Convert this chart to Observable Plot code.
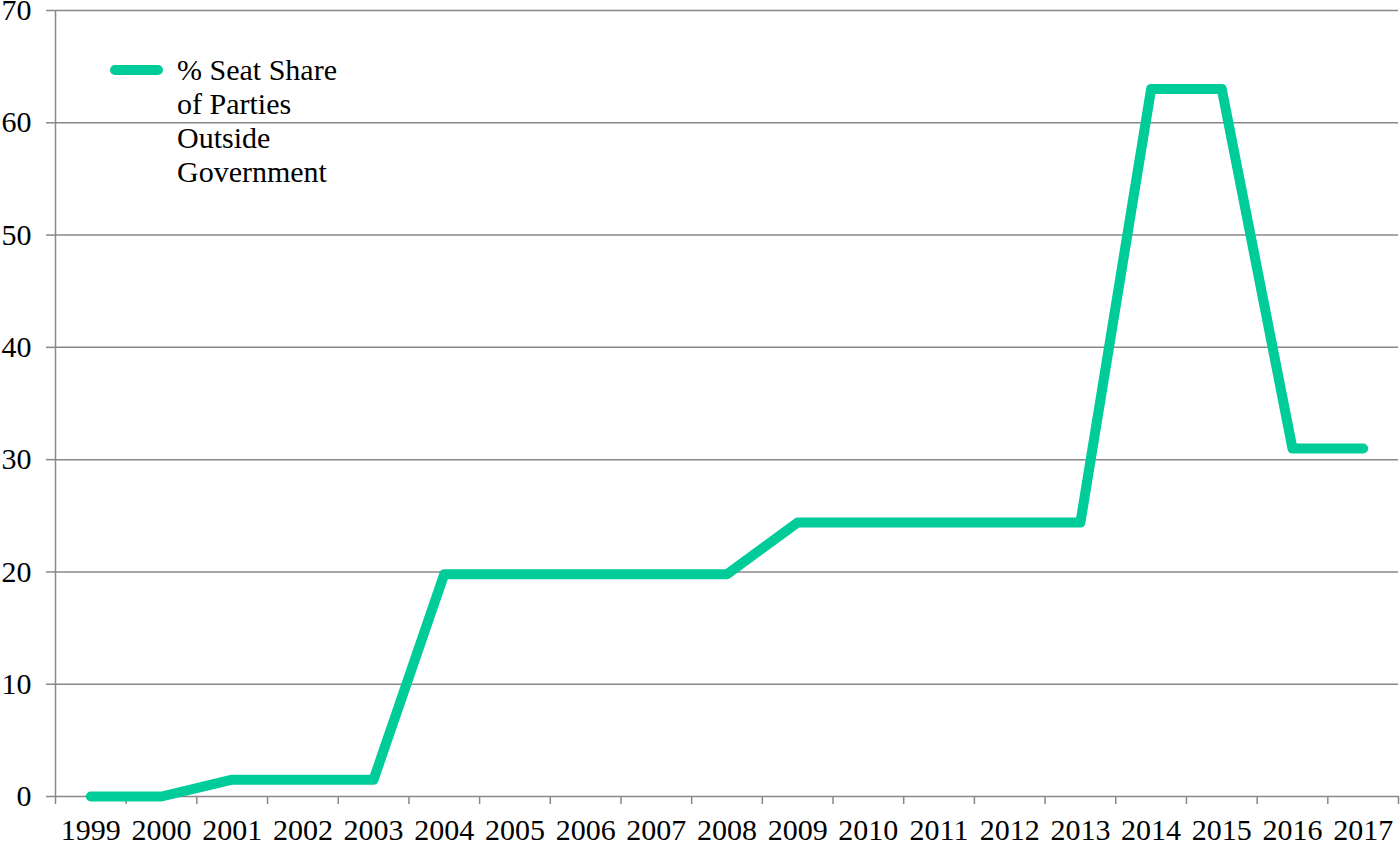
<!DOCTYPE html>
<html>
<head>
<meta charset="utf-8">
<script src="https://cdn.jsdelivr.net/npm/d3@7"></script>
<script src="https://cdn.jsdelivr.net/npm/@observablehq/plot@0.6"></script>
<style>
  html, body { margin: 0; padding: 0; background: #fff; }
  #wrap { position: relative; width: 1400px; height: 842px; font-family: 'Liberation Serif'; }
  #wrap svg, #wrap svg text { font-family: 'Liberation Serif' !important; }
  #legend { position: absolute; left: 110px; top: 53px; display: flex; align-items: flex-start; font-family: 'Liberation Serif'; }
  #legend .sw { width: 53px; height: 10px; border-radius: 5px; background: #00CC99; margin-top: 12px; margin-right: 14px; }
  #legend .tx { font-size: 30px; line-height: 34px; color: #000; font-family: 'Liberation Serif'; }
</style>
</head>
<body>
<div id="wrap"><div id="legend"><div class="sw"></div><div class="tx">% Seat Share<br>of Parties<br>Outside<br>Government</div></div></div>
<script>
const years = [1999,2000,2001,2002,2003,2004,2005,2006,2007,2008,2009,2010,2011,2012,2013,2014,2015,2016,2017];
const seatShare = [0,0,1.5,1.5,1.5,19.8,19.8,19.8,19.8,19.8,24.4,24.4,24.4,24.4,24.4,63,63,31,31];
const yTicks = [0,10,20,30,40,50,60,70];
const seriesName = "% Seat Share of Parties Outside Government";

const data = years.map((y, i) => ({year: y, value: seatShare[i]}));
const boundaries = years.map(y => y - 0.5).concat([years[years.length - 1] + 0.5]);

const chart = Plot.plot({
  width: 1400,
  height: 842,
  marginLeft: 55,
  marginRight: 2,
  marginTop: 10,
  marginBottom: 46,
  style: {fontFamily: "Liberation Serif", fontSize: "30px", color: "#000", background: "#fff", overflow: "visible"},
  x: {type: "linear", domain: [years[0] - 0.5, years[years.length - 1] + 0.5]},
  y: {domain: [0, 70]},
  marks: [
    Plot.gridY(yTicks.filter(d => d > 0), {stroke: "#888", strokeOpacity: 1, strokeWidth: 1.5}),
    Plot.ruleX([years[0] - 0.5], {stroke: "#888", strokeWidth: 1.5}),
    Plot.ruleY([0], {stroke: "#888", strokeWidth: 1.5}),
    Plot.axisY({ticks: yTicks, tickSize: 9, tickPadding: 15, stroke: "#888", strokeWidth: 1.5, tickFormat: d => String(d), label: null, fill: "#000"}),
    Plot.axisX({ticks: boundaries, tickSize: 8, tickFormat: () => "", stroke: "#888", strokeWidth: 1.5, label: null}),
    Plot.axisX({ticks: years, tickSize: 0, tickPadding: 22, tickFormat: d => String(d), label: null, fill: "#000"}),
    Plot.line(data, {x: "year", y: "value", stroke: "#00CC99", strokeWidth: 10, strokeLinecap: "round", strokeLinejoin: "round", title: () => seriesName})
  ]
});
chart.setAttribute("font-family", "Liberation Serif");
chart.querySelectorAll("text, g").forEach(el => { if (el.hasAttribute("font-family")) el.setAttribute("font-family", "Liberation Serif"); });
document.getElementById("wrap").prepend(chart);
</script>
</body>
</html>
